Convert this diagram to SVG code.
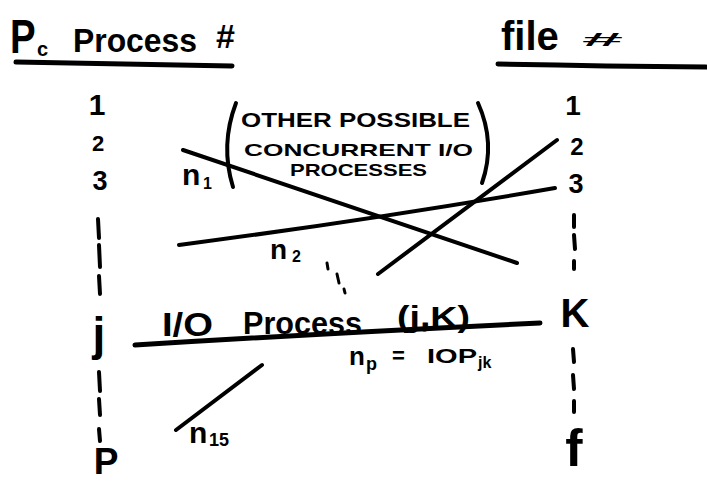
<svg xmlns="http://www.w3.org/2000/svg" width="707" height="481" viewBox="0 0 707 481">
  <style>
    .hand { font-family: "Liberation Sans", "DejaVu Sans", sans-serif; font-weight: bold; fill: #000; }
    .ink { stroke: #000; fill: none; stroke-linecap: round; stroke-linejoin: round; }
    .rule { stroke-width: 5; }
    .tick { stroke-width: 4; }
    .path { stroke-width: 4; }
  </style>
  <rect width="707" height="481" fill="#fff"/>

  <!-- header: processor column -->
  <g id="header-process">
    <text class="hand" transform="translate(10,53) scale(0.8,1)" font-size="48">P</text>
    <text class="hand" x="37" y="56" font-size="20">c</text>
    <text class="hand" x="73" y="52" font-size="34" textLength="124" lengthAdjust="spacingAndGlyphs">Process</text>
    <text class="hand" x="216" y="48" font-size="34">#</text>
    <path class="ink rule" d="M16 62 Q120 64 232 66"/>
  </g>

  <!-- header: file column -->
  <g id="header-file">
    <text class="hand" x="501" y="50" font-size="40">file</text>
    <text class="hand" transform="translate(582,46) scale(2.3,0.55)" font-size="32">#</text>
    <path class="ink rule" d="M498 64 Q600 66 706 67"/>
  </g>

  <!-- process numbers -->
  <g id="column-process" text-anchor="middle">
    <text class="hand" x="97" y="115" font-size="30">1</text>
    <text class="hand" x="98" y="151" font-size="22">2</text>
    <text class="hand" x="100" y="190" font-size="27">3</text>
    <path class="ink tick" d="M98 219 L99 238 M99 245 L100 267 M99 276 L100 294"/>
    <text class="hand" x="99" y="350" font-size="46">j</text>
    <path class="ink tick" d="M99 372 L100 391 M99 399 L100 415 M99 429 L100 441"/>
    <text class="hand" x="106" y="474" font-size="37">P</text>
  </g>

  <!-- file numbers -->
  <g id="column-file" text-anchor="middle">
    <text class="hand" x="573" y="115" font-size="28">1</text>
    <text class="hand" x="577" y="155" font-size="24">2</text>
    <text class="hand" x="576" y="193" font-size="27">3</text>
    <path class="ink tick" d="M574 215 L574 227 M574 235 L575 249 M574 261 L574 269"/>
    <text class="hand" x="575" y="327" font-size="40">K</text>
    <path class="ink tick" d="M573 349 L574 362 M573 375 L574 389 M574 401 L574 412"/>
    <text class="hand" x="574" y="466" font-size="52">f</text>
  </g>

  <!-- bracketed note -->
  <g id="note-concurrent">
    <path class="ink" stroke-width="4" d="M236 103 Q220 145 233 187"/>
    <path class="ink" stroke-width="4" d="M478 103 Q496 143 482 183"/>
    <text class="hand" x="241" y="127" font-size="20" textLength="229" lengthAdjust="spacingAndGlyphs">OTHER POSSIBLE</text>
    <text class="hand" x="244" y="156" font-size="17" textLength="229" lengthAdjust="spacingAndGlyphs">CONCURRENT I/O</text>
    <text class="hand" x="290" y="176" font-size="17" textLength="137" lengthAdjust="spacingAndGlyphs">PROCESSES</text>
  </g>

  <!-- I/O process connectors -->
  <g id="connectors">
    <path class="ink path" d="M183 150 L517 263"/>
    <path class="ink path" d="M179 245 Q370 220 555 188"/>
    <path class="ink path" d="M378 274 L557 140"/>
    <path class="ink" stroke-width="5" d="M135 345 Q330 333 540 323"/>
    <path class="ink path" d="M176 430 L262 365"/>
    <path class="ink" stroke-width="3" d="M327 263 L328 269 M337 274 L339 283 M344 289 L345 293"/>
  </g>

  <!-- connector labels -->
  <g id="labels">
    <text class="hand" x="182" y="185" font-size="30">n</text>
    <text class="hand" x="203" y="189" font-size="16">1</text>
    <text class="hand" x="270" y="259" font-size="28">n</text>
    <text class="hand" x="292" y="262" font-size="16">2</text>
    <text class="hand" x="162" y="336" font-size="33" textLength="51" lengthAdjust="spacingAndGlyphs">I/O</text>
    <text class="hand" x="243" y="334" font-size="31" textLength="119" lengthAdjust="spacingAndGlyphs">Process</text>
    <text class="hand" x="397" y="327" font-size="30" textLength="73" lengthAdjust="spacingAndGlyphs">(j,K)</text>
    <text class="hand" x="349" y="365" font-size="26">n</text>
    <text class="hand" x="366" y="370" font-size="18">p</text>
    <text class="hand" x="392" y="363" font-size="22">=</text>
    <text class="hand" x="427" y="363" font-size="21" textLength="50" lengthAdjust="spacingAndGlyphs">IOP</text>
    <text class="hand" x="478" y="368" font-size="16">jk</text>
    <text class="hand" x="189" y="443" font-size="30">n</text>
    <text class="hand" x="209" y="446" font-size="18">15</text>
  </g>
</svg>
